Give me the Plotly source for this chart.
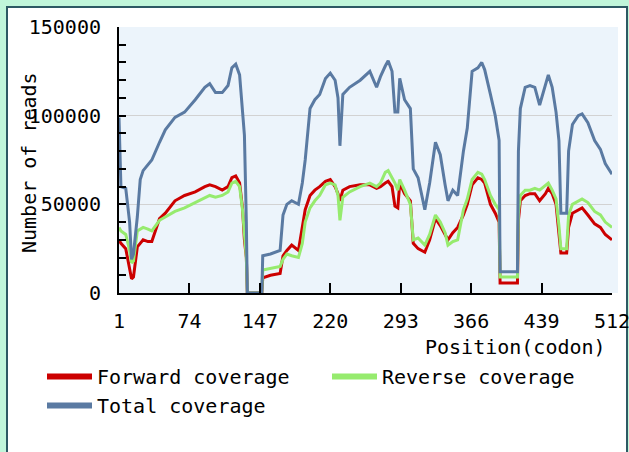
import plotly.graph_objects as go

# Codon positions at which coverage was sampled
positions = [1, 3, 8, 12, 14, 16, 20, 23, 26, 31, 35, 43, 49, 59, 69, 80, 90, 95, 101, 108,
             114, 118, 122, 126, 129, 131, 133, 134, 149, 150, 158, 168, 171, 175, 180, 187, 191, 194, 199, 204,
             209, 215, 220, 225, 228, 230, 233, 240, 251, 261, 268, 272, 277, 280, 284, 287, 290, 292, 297, 303,
             306, 311, 318, 323, 329, 334, 339, 342, 347, 352, 358, 362, 367, 373, 377, 380, 386, 391, 395, 396,
             414, 415, 417, 422, 427, 432, 437, 443, 446, 450, 454, 457, 459, 465, 467, 471, 477, 481, 487, 494,
             500, 505, 512]

forward = [30000, 28000, 25000, 14000, 8000, 9000, 26000, 28000, 30000, 29000, 29000, 42000, 45000, 52000, 55000, 57000, 60000, 61000, 60000, 58000,
           60000, 65000, 66000, 62000, 48000, 30000, 20000, 0, 0, 8500, 10000, 11000, 21000, 24000, 27000, 24000, 38000, 47000, 55000, 58000,
           60000, 63000, 64000, 60000, 56000, 52000, 58000, 60000, 61000, 61000, 59000, 60000, 62000, 63000, 60000, 49000, 48000, 62000, 56000, 52000,
           28000, 25000, 23000, 30000, 42000, 38000, 33000, 30000, 34000, 37000, 44000, 50000, 61000, 65000, 64000, 62000, 50000, 45000, 40000, 5600,
           5600, 41000, 52000, 55000, 56000, 56000, 52000, 56000, 59000, 56000, 50000, 35000, 22600, 22600, 37000, 45000, 47000, 48000, 44000, 39000,
           37000, 33000, 30000]

reverse = [37000, 35000, 33000, 24000, 17000, 18000, 35000, 36000, 37000, 36000, 35000, 41000, 43000, 46000, 48000, 51000, 54000, 55000, 54000, 55000,
           57000, 62000, 63000, 60000, 47000, 32000, 20000, 0, 0, 13000, 14000, 15000, 19000, 22000, 21000, 20000, 28000, 40000, 48000, 52000,
           55000, 61000, 62000, 61000, 55000, 41000, 54000, 57000, 60000, 62000, 60000, 62000, 68000, 69000, 65000, 62000, 58000, 64000, 58000, 50000,
           30000, 31000, 27000, 33000, 44000, 40000, 34000, 27000, 29000, 30000, 47000, 53000, 64000, 68000, 67000, 64000, 55000, 50000, 47000, 9000,
           9000, 45000, 55000, 58000, 58000, 59000, 58000, 61000, 62000, 58000, 53000, 38000, 25000, 25000, 44000, 50000, 52000, 53000, 51000, 46000,
           44000, 40000, 37000]

total = [99000, 60000, 59000, 40000, 19000, 22000, 43000, 64000, 69000, 72000, 75000, 85000, 92000, 99000, 102000, 109000, 116000, 118000, 113000, 113000,
         117000, 127000, 129000, 123000, 100000, 89000, 40000, 0, 0, 21000, 22000, 24000, 44000, 50000, 52000, 50000, 62000, 75000, 104000, 109000,
         112000, 121000, 124000, 120000, 110000, 83000, 112000, 116000, 120000, 125000, 116000, 122000, 128000, 131000, 125000, 102000, 102000, 121000, 109000, 104000,
         70000, 65000, 47000, 62000, 85000, 78000, 61000, 52000, 58000, 55000, 80000, 93000, 125000, 127000, 130000, 126000, 112000, 100000, 86000, 12000,
         12000, 80000, 104000, 116000, 117000, 116000, 106000, 117000, 123000, 116000, 102000, 86000, 45000, 45000, 80000, 95000, 100000, 101000, 96000, 86000,
         81000, 73000, 67000]

series_names = ["Forward coverage", "Reverse coverage", "Total coverage"]
x_ticks = [1, 74, 147, 220, 293, 366, 439, 512]
y_ticks = [0, 50000, 100000, 150000]

RED = "#cc0000"
GREEN = "#96eb6e"
BLUE = "#5a7aa2"
MINT = "#c0f6da"
FRAME = "#2c5963"
PLOT_BG = "#ecf4fb"
MONO = "DejaVu Sans Mono"

W, H = 629, 452
L, R, T, B = 119, 17, 27, 159
PW, PH = W - L - R, H - T - B


def px_x(p):
    return (p - L) / PW


def px_y(p):
    return (H - B - p) / PH


fig = go.Figure()
for name, vals, color in zip(series_names, [forward, reverse, total], [RED, GREEN, BLUE]):
    fig.add_trace(go.Scatter(x=positions, y=vals, mode="lines", name=name,
                             line=dict(color=color, width=3), showlegend=False))
    # thicker swatch for the legend entry
    fig.add_trace(go.Scatter(x=[None], y=[None], mode="lines", name=name,
                             line=dict(color=color, width=6)))

fig.update_layout(
    width=W, height=H,
    margin=dict(l=L, r=R, t=T, b=B, pad=0, autoexpand=False),
    paper_bgcolor=MINT,
    plot_bgcolor="rgba(0,0,0,0)",
    font=dict(family=MONO, size=20, color="black"),
    shapes=[
        dict(type="rect", xref="paper", yref="paper", layer="below",
             x0=px_x(7), x1=px_x(627), y0=px_y(470), y1=px_y(7),
             fillcolor="white", line=dict(color=FRAME, width=2)),
        dict(type="rect", xref="paper", yref="paper", layer="below",
             x0=0, x1=px_x(618), y0=0, y1=1,
             fillcolor=PLOT_BG, line=dict(width=0)),
    ],
    xaxis=dict(range=[1, 512], tickmode="array", tickvals=x_ticks,
               ticks="inside", ticklen=10, tickwidth=2, tickcolor="black",
               showline=True, linecolor="black", linewidth=2,
               showgrid=False, zeroline=False,
               tickfont=dict(family=MONO, size=20, color="black"),
               ticklabeloverflow="allow",
               ticklabelstandoff=9),
    yaxis=dict(range=[0, 150000], tickmode="array", tickvals=y_ticks,
               ticks="inside", ticklen=7, tickwidth=2, tickcolor="black",
               minor=dict(dtick=10000, tick0=0, ticks="inside", ticklen=7,
                          tickwidth=2, tickcolor="black", showgrid=False),
               showline=True, linecolor="black", linewidth=2,
               showgrid=True, gridcolor="#d2d2d2", gridwidth=1, zeroline=False,
               tickformat="d",
               tickfont=dict(family=MONO, size=20, color="black"),
               ticklabelstandoff=12),
    legend=dict(orientation="h", x=px_x(42), xanchor="left",
                y=px_y(357), yanchor="top",
                entrywidth=225, entrywidthmode="pixels", itemwidth=45,
                bgcolor="rgba(0,0,0,0)",
                font=dict(family=MONO, size=20, color="black")),
    annotations=[
        dict(text="Number of reads", xref="paper", yref="paper",
             x=px_x(29), y=px_y(163), textangle=-90, showarrow=False,
             xanchor="center", yanchor="middle",
             font=dict(family=MONO, size=20, color="black")),
        dict(text="Position(codon)", xref="paper", yref="paper",
             x=px_x(608), y=px_y(347), showarrow=False,
             xanchor="right", yanchor="middle",
             font=dict(family=MONO, size=20, color="black")),
    ],
)

fig.write_html("out.html")
